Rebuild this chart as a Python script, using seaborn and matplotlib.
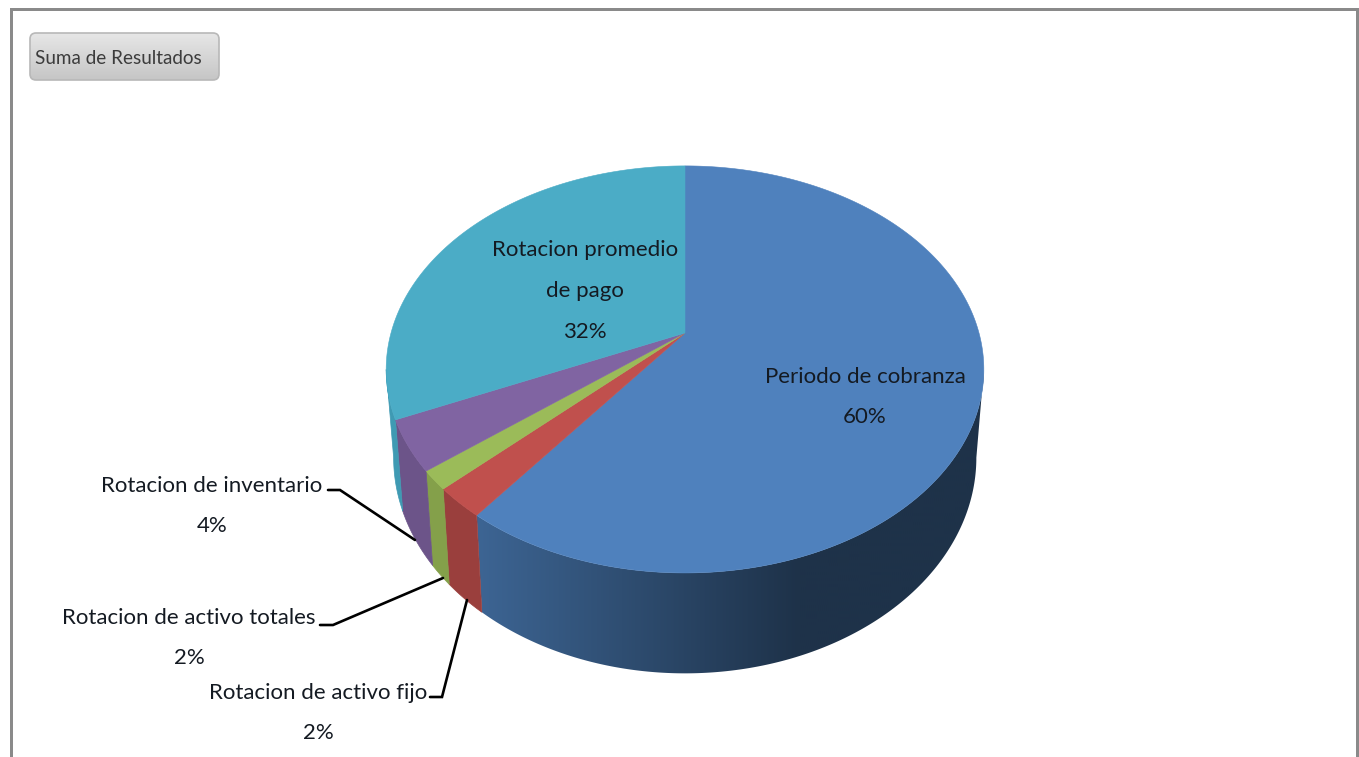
import numpy as np
import pandas as pd
import matplotlib
matplotlib.use("Agg")
import matplotlib.pyplot as plt
from matplotlib.patches import FancyBboxPatch, Polygon, Rectangle
import seaborn as sns

# Data (clockwise from the top of the pie)
categories = ["Periodo de cobranza", "Rotacion de activo fijo", "Rotacion de activo totales",
              "Rotacion de inventario", "Rotacion promedio\nde pago"]
values = [60.4, 2.4, 1.5, 4.0, 31.7]
top_colors = ["#4f81bd", "#c0504d", "#9bbb59", "#8064a2", "#4bacc6"]
wall_colors = ["#3d6594", "#9a3f3d", "#84a04a", "#6c5489", "#3f9ab3"]

df = pd.DataFrame({"cat": categories, "val": values})
df["start"] = df["val"].cumsum().shift(fill_value=0) / df["val"].sum() * 2 * np.pi
df["end"] = df["val"].cumsum() / df["val"].sum() * 2 * np.pi

sns.set_theme(style="white")
plt.rcParams["font.family"] = ["Lato", "DejaVu Sans"]

fig = plt.figure(figsize=(13.59, 7.57), dpi=100)
ax = fig.add_axes([0, 0, 1, 1])
ax.set_xlim(0, 1359)
ax.set_ylim(757, 0)
ax.axis("off")

k_persp = 0.179
# angle where the rim is widest, the wall is only seen below it
t_side = np.arccos(-k_persp)


# perspective view of the unit circle, apex of the pie at (685, 333)
def project(t, low=False):
    u, v = np.sin(t), np.cos(t)
    w = 1 + k_persp * v
    x = 294 * u / w
    y = -197 * v / w
    if low:
        return 685 + 0.975 * x, 333 + 1.06 * y + 86
    return 685 + x, 333 + y


# walls first, the top faces cover the rest
for i, row in df.iterrows():
    a = max(row["start"], t_side)
    b = min(row["end"], 2 * np.pi - t_side)
    if a >= b:
        continue
    ts = np.linspace(a, b, max(int(row["val"] * 8), 6))
    xt, yt = project(ts)
    xb, yb = project(ts, low=True)
    pts = list(zip(xt, yt)) + list(zip(xb[::-1], yb[::-1]))
    if i == 0:
        # blue wall darkens to the right
        wall = Polygon(pts, closed=True, fc="none", ec="none")
        ax.add_patch(wall)
        grad = np.clip((np.linspace(0, 1359, 680) - 475) / (800 - 475), 0, 1).reshape(1, -1)
        im = ax.imshow(grad, extent=(0, 1359, 757, 0), aspect="auto", zorder=1,
                       cmap=sns.blend_palette(["#3d6594", "#1e3249"], as_cmap=True))
        im.set_clip_path(wall)
    else:
        ax.add_patch(Polygon(pts, closed=True, fc=wall_colors[i], ec=wall_colors[i], lw=0.5, zorder=2))

for i, row in df.iterrows():
    ts = np.linspace(row["start"], row["end"], max(int(row["val"] * 8), 6))
    xt, yt = project(ts)
    pts = [(685, 333)] + list(zip(xt, yt))
    ax.add_patch(Polygon(pts, closed=True, fc=top_colors[i], ec=top_colors[i], lw=0.4, zorder=3))

# labels
label_x = [865, 318, 189, 212, 585]
label_y = [397, 713, 638, 506, 291]
for i, row in df.iterrows():
    ax.text(label_x[i], label_y[i], f"{row['cat']}\n{row['val']:.0f}%", ha="center", va="center",
            multialignment="center", fontsize=16, linespacing=2.29, color="#141a22", zorder=5)

# leader lines
leaders = [[(430, 697), (442, 697), (467, 600)],
           [(320, 625), (333, 625), (443, 578)],
           [(328, 490), (340, 490), (415, 540)]]
for pts in leaders:
    ax.plot(*zip(*pts), color="black", lw=1.9, zorder=4, solid_joinstyle="miter")

# window frame, open at the bottom
frame = "#8a8a8a"
ax.add_patch(Rectangle((10, 8), 1347, 3, fc=frame, ec="none"))
ax.add_patch(Rectangle((10, 8), 2.5, 749, fc=frame, ec="none"))
ax.add_patch(Rectangle((1356, 8), 2.5, 749, fc=frame, ec="none"))

# field button
box = FancyBboxPatch((30, 33), 189, 47, boxstyle="round,pad=0,rounding_size=6",
                     fc="none", ec="#b8b8b8", lw=1.2, zorder=6)
ax.add_patch(box)
shade = np.linspace(0, 1, 50).reshape(-1, 1)
im = ax.imshow(shade, extent=(30, 219, 80, 33), cmap=sns.blend_palette(["#e6e6e6", "#c6c6c6"], as_cmap=True),
               aspect="auto", zorder=5)
im.set_clip_path(box)
ax.set_xlim(0, 1359)
ax.set_ylim(757, 0)
ax.text(35, 58, "Suma de Resultados", ha="left", va="center", fontsize=13.6, color="#3c3c3c", zorder=7)

fig.savefig("out.png", dpi=100)
